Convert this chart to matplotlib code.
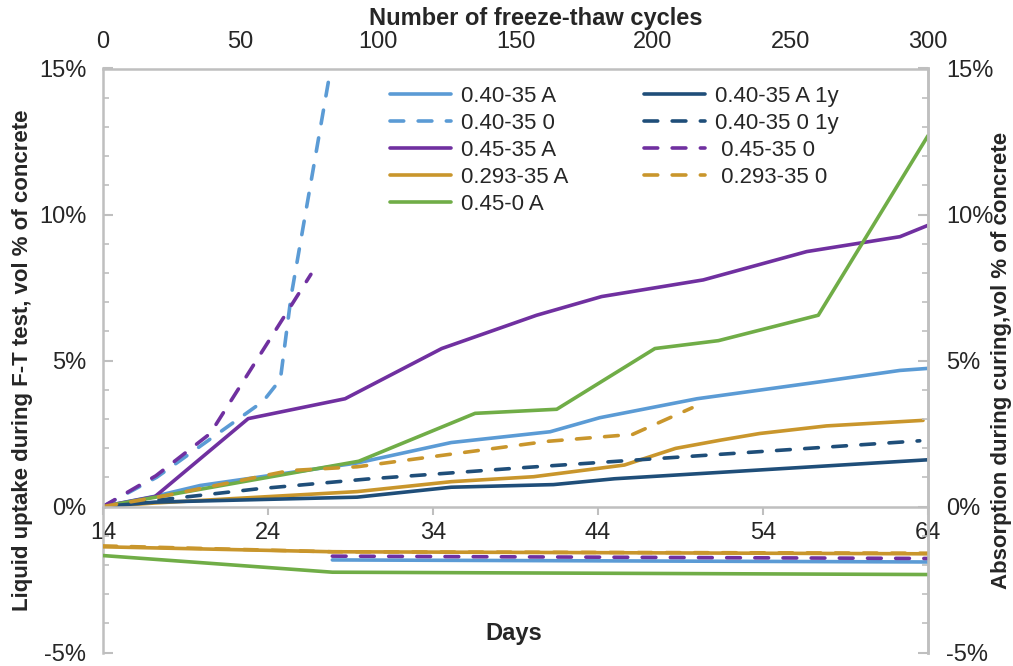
import matplotlib
matplotlib.use("Agg")
import matplotlib.pyplot as plt
from matplotlib.ticker import FixedLocator, MultipleLocator, FuncFormatter

plt.rcParams['font.family'] = ['Liberation Sans', 'DejaVu Sans']

# ---- liquid uptake during freeze-thaw test (days, % of concrete volume) ----
d_040_35A = [14, 17.15, 19.9, 29.4, 35.1, 41.1, 44.1, 50.0, 57.45, 62.3, 64]
v_040_35A = [0, 0.35, 0.72, 1.49, 2.19, 2.56, 3.04, 3.69, 4.27, 4.66, 4.73]

d_040_35_0 = [14, 17.25, 23.7, 24.75, 25.4, 27.8, 28.3]
v_040_35_0 = [0, 1.0, 3.6, 4.35, 7.2, 15.0, 16.8]

d_045_35A = [14, 17.15, 22.8, 28.67, 34.53, 40.28, 44.22, 50.38, 56.65, 62.3, 64]
v_045_35A = [0, 0.34, 3.01, 3.69, 5.41, 6.55, 7.19, 7.76, 8.73, 9.24, 9.63]

d_0293_35A = [14, 17.15, 29.4, 35.1, 40.1, 45.6, 48.7, 51.4, 53.8, 57.85, 63.7]
v_0293_35A = [0, 0.12, 0.51, 0.85, 1.02, 1.42, 1.99, 2.27, 2.50, 2.76, 2.95]

d_045_0A = [14, 29.5, 36.55, 41.5, 47.45, 51.3, 57.35, 64]
v_045_0A = [0, 1.55, 3.19, 3.33, 5.41, 5.68, 6.55, 12.7]

d_040_35A_1y = [14, 17.15, 29.4, 35.1, 41.3, 45.0, 64]
v_040_35A_1y = [0, 0.15, 0.32, 0.66, 0.75, 0.95, 1.60]

d_040_35_0_1y = [14, 18.3, 23.3, 30.0, 39.7, 48.6, 63.5]
v_040_35_0_1y = [0, 0.28, 0.60, 0.94, 1.34, 1.68, 2.25]

d_045_35_0 = [14, 17.2, 20.5, 26.6]
v_045_35_0 = [0, 1.05, 2.5, 7.95]

d_0293_35_0 = [14, 17.15, 25.3, 29.4, 34.8, 40.9, 46.1, 49.7]
v_0293_35_0 = [0, 0.3, 1.23, 1.36, 1.77, 2.23, 2.47, 3.38]

# ---- absorption during curing (days, % of concrete volume) ----
cd_0293_35A = [14, 27.9, 64]
cv_0293_35A = [-1.38, -1.55, -1.62]
cd_0293_35_0 = [14, 27.9, 64]
cv_0293_35_0 = [-1.35, -1.55, -1.60]
cd_045_35_0 = [27.9, 64]
cv_045_35_0 = [-1.70, -1.78]
cd_040_35A = [27.9, 64]
cv_040_35A = [-1.83, -1.90]
cd_045_0A = [14, 27.9, 64]
cv_045_0A = [-1.68, -2.25, -2.33]

x_ticks = [14, 24, 34, 44, 54, 64]
cycle_ticks = [0, 50, 100, 150, 200, 250, 300]
y_ticks = [-5, 0, 5, 10, 15]

C_LBLUE = '#5B9BD5'
C_NAVY = '#1F4E79'
C_PURPLE = '#7030A0'
C_GOLD = '#C9962C'
C_GREEN = '#70AD47'
C_SPINE = '#BFBFBF'
C_TEXT = '#262626'

LW = 2.6
DASH = (0, (3.8, 4.0))
FS_TICK = 17
FS_TITLE = 17
FS_LEG = 16

W, H = 1013, 666
fig = plt.figure(figsize=(W / 100, H / 100), dpi=100)
ax = fig.add_axes([103 / W, 13.5 / H, 825 / W, 584 / H])
ax.set_xlim(14, 64)
ax.set_ylim(-5, 15)

common = dict(lw=LW, solid_capstyle='round', dash_capstyle='round',
              solid_joinstyle='round', clip_on=True)

ax.plot(d_040_35A, v_040_35A, color=C_LBLUE, label='0.40-35 A', **common)
ax.plot(d_040_35_0, v_040_35_0, color=C_LBLUE, ls=DASH, label='0.40-35 0', **common)
ax.plot(d_045_35A, v_045_35A, color=C_PURPLE, label='0.45-35 A', **common)
ax.plot(d_0293_35A, v_0293_35A, color=C_GOLD, label='0.293-35 A', **common)
ax.plot(d_045_0A, v_045_0A, color=C_GREEN, label='0.45-0 A', **common)
ax.plot(d_040_35A_1y, v_040_35A_1y, color=C_NAVY, label='0.40-35 A 1y', **common)
ax.plot(d_040_35_0_1y, v_040_35_0_1y, color=C_NAVY, ls=DASH, label='0.40-35 0 1y', **common)
ax.plot(d_045_35_0, v_045_35_0, color=C_PURPLE, ls=DASH, label=' 0.45-35 0', **common)
ax.plot(d_0293_35_0, v_0293_35_0, color=C_GOLD, ls=DASH, label=' 0.293-35 0', **common)

# curing absorption on the right-hand scale
axr = ax.twinx()
axr.set_ylim(-5, 15)
axr.plot(cd_045_0A, cv_045_0A, color=C_GREEN, **common)
axr.plot(cd_040_35A, cv_040_35A, color=C_LBLUE, **common)
axr.plot(cd_0293_35A, cv_0293_35A, color=C_GOLD, **common)
axr.plot(cd_045_35_0, cv_045_35_0, color=C_PURPLE, ls=DASH, **common)
axr.plot(cd_0293_35_0, cv_0293_35_0, color=C_GOLD, ls=DASH, **common)

pct = FuncFormatter(lambda v, p: f'{v:.0f}%')

# spines
for a in (ax, axr):
    for s in a.spines.values():
        s.set_color(C_SPINE)
        s.set_linewidth(1.8)
ax.spines['bottom'].set_position(('data', 0))
axr.spines['bottom'].set_visible(False)
axr.spines['top'].set_visible(False)
axr.spines['left'].set_visible(False)

# bottom axis: days
ax.xaxis.set_major_locator(FixedLocator(x_ticks))
ax.tick_params(axis='x', direction='out', length=6, width=1.5, color=C_SPINE,
               labelsize=FS_TICK, labelcolor=C_TEXT, pad=5)
ax.set_xlabel('Days', fontsize=FS_TITLE, fontweight='bold', color=C_TEXT)
ax.xaxis.set_label_coords(0.498, 0.052)

# left axis
ax.yaxis.set_major_locator(FixedLocator(y_ticks))
ax.yaxis.set_minor_locator(MultipleLocator(1))
ax.yaxis.set_major_formatter(pct)
ax.tick_params(axis='y', which='major', direction='in', length=7, width=1.5,
               color=C_SPINE, labelsize=FS_TICK, labelcolor=C_TEXT, pad=12)
ax.tick_params(axis='y', which='minor', direction='in', length=4, width=1.2,
               color=C_SPINE)
ax.set_ylabel('Liquid uptake during F-T test, vol % of concrete', fontsize=16,
              fontweight='bold', color=C_TEXT)
ax.yaxis.set_label_coords(-0.085, 0.5)

# right axis
axr.yaxis.set_major_locator(FixedLocator(y_ticks))
axr.yaxis.set_minor_locator(MultipleLocator(1))
axr.yaxis.set_major_formatter(pct)
axr.tick_params(axis='y', which='major', direction='in', length=7, width=1.5,
                color=C_SPINE, labelsize=FS_TICK, labelcolor=C_TEXT, pad=13)
axr.tick_params(axis='y', which='minor', direction='in', length=4, width=1.2,
                color=C_SPINE)
axr.set_ylabel('Absorption during curing,vol % of concrete', fontsize=16,
               fontweight='bold', color=C_TEXT, rotation=90)
axr.yaxis.set_label_coords(1.0765, 0.5)

# top axis: freeze-thaw cycles
top = ax.secondary_xaxis('top', functions=(lambda d: (d - 14) * 6,
                                           lambda c: c / 6 + 14))
top.set_xticks(cycle_ticks)
top.tick_params(axis='x', length=0, labelsize=FS_TICK, labelcolor=C_TEXT, pad=11)
top.spines['top'].set_visible(False)
fig.text(536 / W, 1 - 18 / H, 'Number of freeze-thaw cycles', ha='center',
         va='center', fontsize=FS_TITLE, fontweight='bold', color=C_TEXT)

leg = ax.legend(ncol=2, loc='upper left', bbox_to_anchor=(0.348, 0.97),
                frameon=False, fontsize=FS_LEG, handlelength=2.75,
                handletextpad=0.45, columnspacing=3.4, labelspacing=0.27,
                borderaxespad=0, borderpad=0)
for t in leg.get_texts():
    t.set_color(C_TEXT)

fig.savefig('out.png', dpi=100)
